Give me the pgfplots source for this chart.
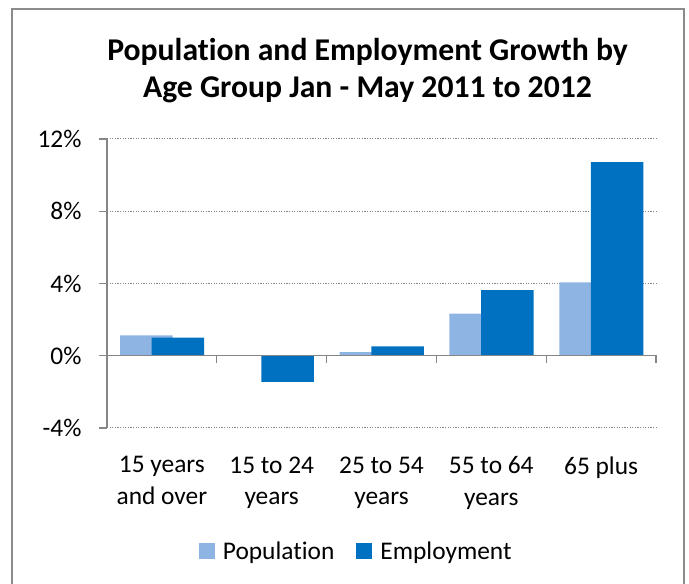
\documentclass[border=0pt]{standalone}
\usepackage{fontspec}
\setmainfont{Carlito}[Ligatures=NoCommon]
\usepackage{pgfplots}
\pgfplotsset{compat=1.18}
\definecolor{popc}{HTML}{8EB4E3}
\definecolor{empc}{HTML}{0070C0}
\definecolor{axc}{HTML}{868686}
\definecolor{framec}{HTML}{8C8C8C}
\begin{document}
\begin{tikzpicture}
\path[use as bounding box] (0bp,0bp) rectangle (689bp,584bp);
\draw[framec, line width=2bp] (12bp,-5bp) -- (12bp,575bp) -- (684bp,575bp) -- (684bp,-5bp);
\node[align=center, font=\fontsize{31.8}{37}\selectfont\bfseries] at (367.5bp,513bp) {Population and Employment Growth by\\Age Group Jan - May 2011 to 2012};
\begin{axis}[
  at={(107bp,156bp)}, anchor=south west,
  scale only axis, width=549bp, height=289bp,
  xmin=-0.5, xmax=4.5, ymin=-4, ymax=12,
  axis lines=left,
  axis line style={-, axc, line width=1.2bp},
  x axis line style={draw=none},
  xtick={0,1,2,3,4},
  xticklabels={15 years\\and over, 15 to 24\\years, 25 to 54\\years, 55 to 64\\years, 65 plus},
  xtick style={draw=none},
  xticklabel style={align=center, font=\fontsize{25.5}{31.5}\selectfont, yshift=-17bp},
  ytick={-4,0,4,8,12},
  yticklabels={-4\%,0\%,4\%,8\%,12\%},
  yticklabel style={font=\fontsize{25.5}{30}\selectfont, xshift=-14bp},
  tick align=outside,
  major tick length=8bp,
  ytick style={axc, line width=1.2bp},
  ymajorgrids,
  major grid style={axc, line width=1bp, dash pattern=on 1.2bp off 1.4bp},
  legend style={at={(0.454,-0.426)}, anchor=center, draw=none, legend columns=2,
    font=\fontsize{25.5}{28}\selectfont, column sep=6bp,
    /tikz/every even column/.append style={column sep=20bp}},
  legend image code/.code={\fill[#1] (0bp,-8bp) rectangle (16bp,8bp);},
  clip=false,
]
\addplot[ybar, bar width=0.478, bar shift=-0.142, fill=popc, draw=none]
  coordinates {(0,1.13) (1,0.0) (2,0.2) (3,2.33) (4,4.06)};
\addlegendentry{Population}
\addplot[ybar, bar width=0.478, bar shift=0.146, fill=empc, draw=none]
  coordinates {(0,1.0) (1,-1.44) (2,0.52) (3,3.63) (4,10.72)};
\addlegendentry{Employment}
\draw[axc, line width=1.2bp] (axis cs:-0.5,0) -- (axis cs:4.5,0);
\pgfplotsinvokeforeach{-0.5,0.5,1.5,2.5,3.5,4.5}{
  \draw[axc, line width=1.2bp] (axis cs:#1,0) -- ([yshift=-7bp]axis cs:#1,0);
}
\end{axis}
\end{tikzpicture}
\end{document}
